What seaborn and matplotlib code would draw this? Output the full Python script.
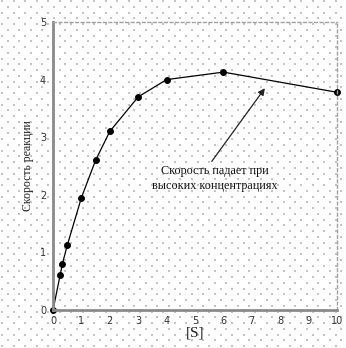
import numpy as np
import pandas as pd
import matplotlib
matplotlib.use("Agg")
import matplotlib.pyplot as plt
import seaborn as sns

# Data
substrate = [0, 0.25, 0.33, 0.5, 1, 1.5, 2, 3, 4, 6, 10]
rate = [0, 0.6, 0.8, 1.12, 1.95, 2.6, 3.1, 3.7, 4.0, 4.13, 3.78]
x_ticks = [0, 1, 2, 3, 4, 5, 6, 7, 8, 9, 10]
y_ticks = [0, 1, 2, 3, 4, 5]
annotation_text = "Скорость падает при\nвысоких концентрациях"
x_label = "[S]"
y_label = "Скорость реакции"

df = pd.DataFrame({"S": substrate, "v": rate})

sns.set_theme(style="white")
plt.rcParams["font.family"] = ["DejaVu Sans"]

fig = plt.figure(figsize=(3.46, 3.48), dpi=100)
fig.patch.set_facecolor("white")

# dotted background pattern (staggered)
bg = fig.add_axes([0, 0, 1, 1], zorder=-5)
bg.set_xlim(0, 346)
bg.set_ylim(0, 348)
step = 5.75
pts_x, pts_y = [], []
for i, yy in enumerate(np.arange(2, 348, step)):
    xs = np.arange(2 + (step if i % 2 else 0), 346, 2 * step)
    pts_x.extend(xs)
    pts_y.extend([yy] * len(xs))
bg.scatter(pts_x, pts_y, s=0.8, c="#c4c4c4", marker="s", linewidths=0)
bg.axis("off")

ax = fig.add_axes([53 / 346, 38 / 348, 284 / 346, 288 / 348])
ax.patch.set_alpha(0)

sns.lineplot(data=df, x="S", y="v", ax=ax, color="black", linewidth=0.9,
             marker="o", markersize=4.2, markerfacecolor="black",
             markeredgecolor="black", clip_on=False)

ax.set_xlim(0, 10)
ax.set_ylim(0, 5)
ax.set_xticks(x_ticks)
ax.set_yticks(y_ticks)
ax.set_xticklabels([str(t) for t in x_ticks], fontsize=7, color="#333333")
ax.set_yticklabels([str(t) for t in y_ticks], fontsize=7, color="#333333")
ax.tick_params(axis="x", direction="inout", length=5, width=1, color="#555555", pad=2)
ax.tick_params(axis="y", direction="out", length=3, width=1, color="#555555", pad=2)

for side in ["left", "bottom"]:
    ax.spines[side].set_color("#8a8a8a")
    ax.spines[side].set_linewidth(2)
for side in ["top", "right"]:
    ax.spines[side].set_color("#a0a0a0")
    ax.spines[side].set_linewidth(1)
    ax.spines[side].set_linestyle((0, (2, 2)))

ax.set_xlabel(x_label, family="Liberation Serif", fontsize=11, labelpad=0, color="#222222")
ax.set_ylabel(y_label, family="Liberation Serif", fontsize=8.5, labelpad=4, color="#222222")

ax.text(5.7, 2.28, annotation_text, ha="center", va="center",
        family="Liberation Serif", fontsize=8.7, color="#111111", linespacing=1.3)
ax.annotate("", xy=(7.46, 3.85), xytext=(5.59, 2.58),
            arrowprops=dict(arrowstyle="-|>", color="#222222", lw=0.9,
                            mutation_scale=10, shrinkA=0, shrinkB=0))

fig.savefig("out.png", dpi=100)
